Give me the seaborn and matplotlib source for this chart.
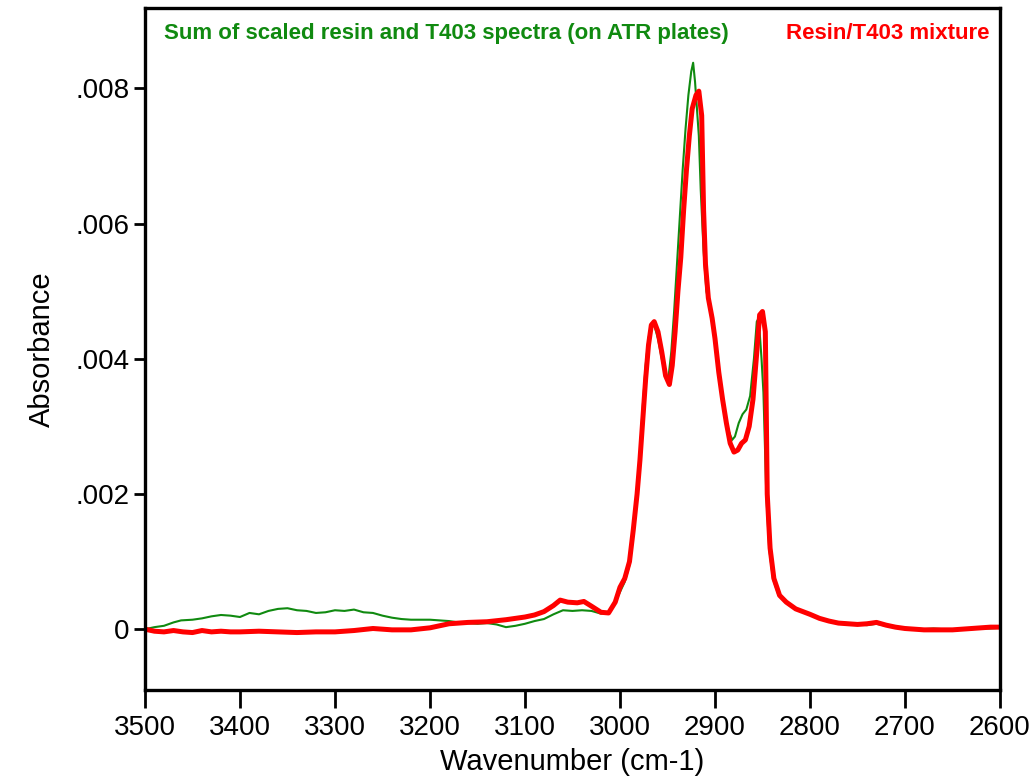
import matplotlib
matplotlib.use("Agg")
import matplotlib.pyplot as plt
import seaborn as sns
import pandas as pd

# ---- data ----
mix_wn = [3500, 3490, 3480, 3470, 3460, 3450, 3440, 3430, 3420, 3410, 3400, 3380, 3360, 3340, 3320,
          3300, 3280, 3260, 3240, 3220, 3200, 3180, 3160, 3140, 3120, 3100, 3090, 3080, 3070, 3063,
          3055, 3045, 3038, 3030, 3020, 3012, 3005, 3000, 2995, 2990, 2986, 2982, 2979, 2976, 2973,
          2970, 2967, 2964, 2960, 2956, 2952, 2948, 2945, 2942, 2939, 2936, 2933, 2930, 2927, 2924,
          2920, 2917, 2914, 2912, 2910, 2907, 2903, 2900, 2896, 2892, 2888, 2884, 2880, 2876, 2872,
          2868, 2864, 2860, 2856, 2853, 2850, 2847, 2845, 2842, 2838, 2832, 2825, 2815, 2800, 2790,
          2780, 2770, 2760, 2750, 2740, 2730, 2720, 2710, 2700, 2690, 2680, 2670, 2660, 2650, 2640,
          2630, 2620, 2610, 2600]
mix_abs = [0.00000, -0.00003, -0.00004, -0.00002, -0.00004, -0.00005, -0.00002, -0.00004, -0.00003,
           -0.00004, -0.00004, -0.00003, -0.00004, -0.00005, -0.00004, -0.00004, -0.00002, 0.00001,
           -0.00001, -0.00001, 0.00002, 0.00008, 0.00010, 0.00011, 0.00014, 0.00018, 0.00021, 0.00026,
           0.00035, 0.00043, 0.00040, 0.00039, 0.00041, 0.00034, 0.00025, 0.00024, 0.00040, 0.00062,
           0.00075, 0.00100, 0.00147, 0.00200, 0.00250, 0.00310, 0.00370, 0.00420, 0.00450, 0.00455,
           0.00440, 0.00410, 0.00375, 0.00362, 0.00390, 0.00440, 0.00500, 0.00550, 0.00620, 0.00680,
           0.00730, 0.00770, 0.00790, 0.00796, 0.00760, 0.00620, 0.00540, 0.00490, 0.00460, 0.00430,
           0.00380, 0.00340, 0.00305, 0.00275, 0.00262, 0.00265, 0.00275, 0.00280, 0.00300, 0.00340,
           0.00410, 0.00465, 0.00470, 0.00440, 0.00200, 0.00120, 0.00075, 0.00050, 0.00040, 0.00030,
           0.00022, 0.00016, 0.00012, 0.00009, 0.00008, 0.00007, 0.00008, 0.00010, 0.00006, 0.00003,
           0.00001, 0.00000, -0.00001, -0.00001, -0.00001, -0.00001, 0.00000, 0.00001, 0.00002,
           0.00003, 0.00003]

sum_wn = [3500, 3490, 3480, 3470, 3462, 3450, 3440, 3430, 3420, 3410, 3400, 3390, 3380, 3370, 3360,
          3350, 3340, 3330, 3320, 3310, 3300, 3290, 3280, 3270, 3260, 3250, 3240, 3230, 3220, 3200,
          3190, 3180, 3170, 3160, 3150, 3140, 3130, 3120, 3110, 3100, 3090, 3080, 3070, 3060, 3050,
          3040, 3030, 3020, 3012, 3005, 3000, 2995, 2990, 2986, 2982, 2979, 2976, 2973, 2970, 2967,
          2964, 2960, 2956, 2952, 2949, 2946, 2943, 2940, 2937, 2934, 2931, 2928, 2925, 2923, 2921,
          2919, 2917, 2915, 2912, 2909, 2906, 2902, 2898, 2894, 2890, 2886, 2882, 2879, 2875, 2871,
          2867, 2863, 2859, 2856, 2854, 2851, 2849, 2846, 2843, 2839, 2833, 2825, 2815, 2800, 2790,
          2780, 2770, 2760, 2750, 2740, 2730, 2720, 2710, 2700, 2690, 2680, 2670, 2660, 2650, 2640,
          2630, 2620, 2610, 2600]
sum_abs = [0.00000, 0.00003, 0.00005, 0.00010, 0.00013, 0.00014, 0.00016, 0.00019, 0.00021, 0.00020,
           0.00018, 0.00024, 0.00022, 0.00027, 0.00030, 0.00031, 0.00028, 0.00027, 0.00024, 0.00025,
           0.00028, 0.00027, 0.00029, 0.00025, 0.00024, 0.00020, 0.00017, 0.00015, 0.00014, 0.00014,
           0.00013, 0.00012, 0.00010, 0.00009, 0.00008, 0.00009, 0.00007, 0.00003, 0.00005, 0.00008,
           0.00012, 0.00015, 0.00022, 0.00028, 0.00027, 0.00028, 0.00027, 0.00023, 0.00025, 0.00040,
           0.00055, 0.00070, 0.00095, 0.00140, 0.00200, 0.00260, 0.00330, 0.00390, 0.00430, 0.00452,
           0.00450, 0.00430, 0.00400, 0.00375, 0.00372, 0.00410, 0.00470, 0.00540, 0.00610, 0.00680,
           0.00740, 0.00790, 0.00825, 0.00838, 0.00810, 0.00770, 0.00730, 0.00650, 0.00560, 0.00500,
           0.00480, 0.00450, 0.00400, 0.00355, 0.00320, 0.00295, 0.00280, 0.00285, 0.00305, 0.00318,
           0.00325, 0.00345, 0.00400, 0.00455, 0.00460, 0.00400, 0.00350, 0.00200, 0.00120, 0.00075,
           0.00050, 0.00040, 0.00030, 0.00022, 0.00016, 0.00012, 0.00010, 0.00009, 0.00007, 0.00006,
           0.00008, 0.00005, 0.00003, 0.00002, 0.00001, 0.00000, 0.00001, 0.00000, -0.00001, 0.00000,
           0.00000, 0.00001, 0.00001, 0.00002]

x_ticks = [3500, 3400, 3300, 3200, 3100, 3000, 2900, 2800, 2700, 2600]
y_ticks = [0.0, 0.002, 0.004, 0.006, 0.008]
y_tick_labels = ["0", ".002", ".004", ".006", ".008"]

sum_label = "Sum of scaled resin and T403 spectra (on ATR plates)"
mix_label = "Resin/T403 mixture"
x_title = "Wavenumber (cm-1)"
y_title = "Absorbance"

# ---- plotting ----
sns.set_style("white")
plt.rcParams["font.family"] = ["Liberation Sans", "DejaVu Sans"]
plt.rcParams["text.color"] = "black"
plt.rcParams["axes.labelcolor"] = "black"
plt.rcParams["xtick.color"] = "black"
plt.rcParams["ytick.color"] = "black"

df_sum = pd.DataFrame({"wn": sum_wn, "abs": sum_abs})
df_mix = pd.DataFrame({"wn": mix_wn, "abs": mix_abs})

fig = plt.figure(figsize=(10.29, 7.78), dpi=100)
ax = fig.add_axes([0.1409, 0.1131, 0.8309, 0.8766])

sns.lineplot(data=df_sum, x="wn", y="abs", ax=ax, color="#108a10", linewidth=1.5,
             sort=False, estimator=None)
sns.lineplot(data=df_mix, x="wn", y="abs", ax=ax, color="#ff0000", linewidth=3.6,
             sort=False, estimator=None)

ax.set_xlim(3500, 2600)
ax.set_ylim(-0.0009, 0.00919)
ax.set_xticks(x_ticks)
ax.set_xticklabels([str(t) for t in x_ticks], fontsize=20, color="black")
ax.set_yticks(y_ticks)
ax.set_yticklabels(y_tick_labels, fontsize=20, color="black")
ax.tick_params(axis="x", direction="out", length=13, width=2, color="black", pad=5,
               bottom=True)
ax.tick_params(axis="y", direction="out", length=8, width=2, color="black", pad=3,
               left=True)
ax.set_xlabel(x_title, fontsize=21, labelpad=5, color="black")
ax.set_ylabel(y_title, fontsize=21, labelpad=14, color="black")

for s in ax.spines.values():
    s.set_visible(True)
    s.set_color("black")
    s.set_linewidth(2.4)

ax.text(0.022, 0.963, sum_label, transform=ax.transAxes, color="#108a10",
        fontsize=16, fontweight="bold", ha="left", va="center")
ax.text(0.988, 0.963, mix_label, transform=ax.transAxes, color="#ff0000",
        fontsize=16, fontweight="bold", ha="right", va="center")

fig.savefig("out.png", dpi=100, facecolor="white")
